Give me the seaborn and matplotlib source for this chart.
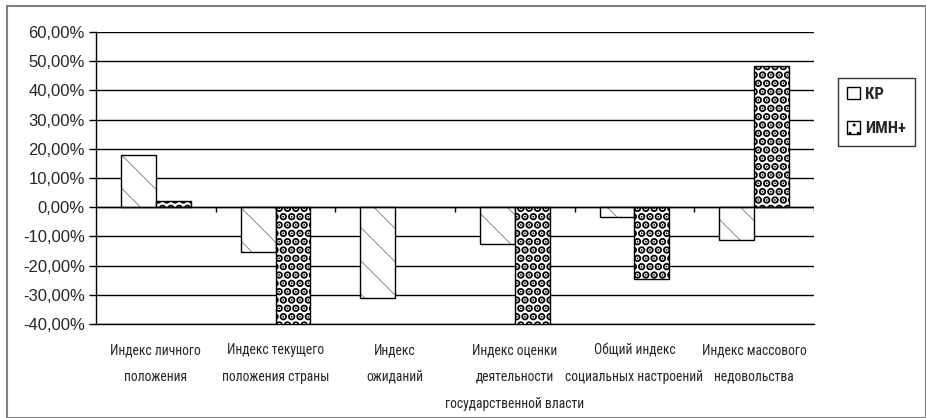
"""Grouped bar chart: social indices, КР vs ИМН+."""

import matplotlib
matplotlib.use("Agg")
import matplotlib.pyplot as plt
import matplotlib.patches as mpatches
from matplotlib.ticker import FuncFormatter, FixedLocator
import numpy as np
import pandas as pd
import seaborn as sns

# data (percent)
categories = [
    "Индекс личного\nположения",
    "Индекс текущего\nположения страны",
    "Индекс\nожиданий",
    "Индекс оценки\nдеятельности\nгосударственной власти",
    "Общий индекс\nсоциальных настроений",
    "Индекс массового\nнедовольства",
]
series_names = ["КР", "ИМН+"]
kr_values = [17.8, -15.4, -31.0, -12.6, -3.4, -11.2]
imn_values = [2.2, -41.0, np.nan, -41.0, -24.7, 48.5]
y_ticks = [-40, -30, -20, -10, 0, 10, 20, 30, 40, 50, 60]

df = pd.DataFrame({
    "category": categories * 2,
    "series": [series_names[0]] * len(categories) + [series_names[1]] * len(categories),
    "value": kr_values + imn_values,
})

sns.set_style("white")
plt.rcParams["font.family"] = ["Liberation Sans", "DejaVu Sans"]
narrow = ["Liberation Sans Narrow", "Roboto Condensed", "Roboto", "DejaVu Sans"]

fig = plt.figure(figsize=(9.26, 4.18), dpi=100)
ax = fig.add_axes([0.1037, 0.2249, 0.879 - 0.1037, 0.9234 - 0.2249])

sns.barplot(data=df, x="category", y="value", hue="series", order=categories,
            hue_order=series_names, width=0.58, gap=0, dodge=True,
            color="white", legend=False, ax=ax, saturation=1)


def style_patch(p, h, hc, hlw):
    p.set_facecolor("white")
    p.set_edgecolor("black")
    p.set_linewidth(1.0)
    p.set_hatch(h)
    if hasattr(p, "set_hatchcolor"):
        p.set_hatchcolor(hc)
    else:
        p._hatch_color = matplotlib.colors.to_rgba(hc)
    if hasattr(p, "set_hatch_linewidth"):
        p.set_hatch_linewidth(hlw)
    else:
        p._hatch_linewidth = hlw


# per-series fill patterns: sparse diagonal for КР, dense dots for ИМН+
styles = [("\\", "#8a8a8a", 0.7), ("..", "black", 4.0)]
for cont, st in zip(ax.containers, styles):
    for bar in cont:
        style_patch(bar, *st)
        bar.set_zorder(3)

ax.set_ylim(-40, 60)
ax.set_xlim(-0.5, len(categories) - 0.5)
ax.yaxis.set_major_locator(FixedLocator(y_ticks))
ax.yaxis.set_major_formatter(FuncFormatter(lambda v, _: f"{v:.2f}%".replace(".", ",")))
ax.grid(axis="y", color="black", linewidth=1.0, zorder=0)
ax.set_axisbelow(True)
ax.axhline(0, color="black", linewidth=1.0, zorder=4)

# category boundary ticks
bounds = np.arange(-0.5, len(categories), 1.0)
ax.xaxis.set_minor_locator(FixedLocator(bounds))
ax.tick_params(axis="x", which="minor", length=5, width=1, color="black", direction="out")
ax.tick_params(axis="x", which="major", length=0, pad=14)
ax.tick_params(axis="y", length=5, width=1, color="black", direction="out",
               labelsize=12, pad=3, left=True)
ax.vlines(bounds[1:], -1.8, 0, color="black", linewidth=1.0, zorder=4)

ax.set_xticks(range(len(categories)))
ax.set_xticklabels(categories, fontsize=9.8, linespacing=2.14, va="top", family=narrow)
ax.set_xlabel("")
ax.set_ylabel("")

for side in ["top", "right"]:
    ax.spines[side].set_visible(False)
for side in ["left", "bottom"]:
    ax.spines[side].set_color("black")
    ax.spines[side].set_linewidth(1.0)

leg_kr = mpatches.Patch(label=series_names[0])
leg_imn = mpatches.Patch(label=series_names[1])
style_patch(leg_kr, "", "black", 1.0)
style_patch(leg_imn, "..", "black", 4.0)
leg = fig.legend(handles=[leg_kr, leg_imn], loc="upper left",
                 bbox_to_anchor=(838 / 926, 1 - 78 / 418),
                 frameon=True, fancybox=False, edgecolor="black", fontsize=12,
                 handlelength=0.75, handleheight=0.75, handletextpad=0.3,
                 borderpad=0.55, labelspacing=1.15, borderaxespad=0)
leg.get_frame().set_linewidth(1.0)
for t in leg.get_texts():
    t.set_fontweight("bold")
    t.set_family(narrow)

# outer chart border
fig.patches.append(mpatches.Rectangle((7 / 926, 0.0), 1 - 7 / 926, 1 - 6 / 418,
                                      transform=fig.transFigure, fill=False,
                                      edgecolor="#808080", linewidth=1.5))

fig.savefig("out.png", dpi=100)
